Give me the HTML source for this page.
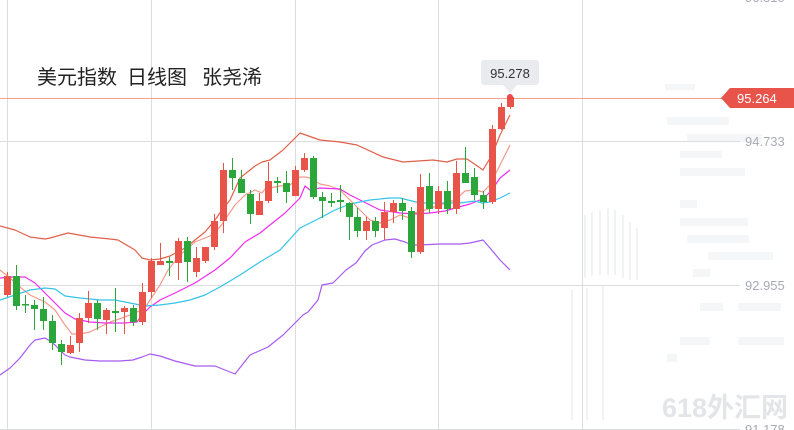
<!DOCTYPE html>
<html><head><meta charset="utf-8"><style>
html,body{margin:0;padding:0;background:#fff;}
svg{display:block;}
</style></head><body>
<svg width="794" height="430" viewBox="0 0 794 430" xmlns="http://www.w3.org/2000/svg">
<rect width="794" height="430" fill="#fff"/>
<!-- faint watermark blocks -->
<g fill="#f5f6f8">
<rect x="665" y="84" width="30" height="6"/><rect x="667" y="117" width="62" height="8"/><rect x="687" y="134" width="75" height="8"/>
<rect x="680" y="151" width="42" height="7"/><rect x="680" y="168" width="65" height="8"/><rect x="680" y="200" width="17" height="8"/>
<rect x="680" y="218" width="68" height="8"/><rect x="687" y="235" width="62" height="8"/><rect x="708" y="252" width="65" height="8"/>
<rect x="693" y="269" width="17" height="8"/><rect x="700" y="303" width="23" height="8"/><rect x="738" y="303" width="43" height="8"/>
<rect x="680" y="337" width="30" height="8"/><rect x="738" y="337" width="46" height="8"/><rect x="667" y="354" width="10" height="8"/>
</g>
<g stroke="#f1f2f4" stroke-width="2">
<line x1="585" y1="215" x2="585" y2="278"/><line x1="592" y1="212" x2="592" y2="276"/><line x1="600" y1="210" x2="600" y2="275"/><line x1="608" y1="208" x2="608" y2="275"/><line x1="615" y1="210" x2="615" y2="275"/><line x1="623" y1="215" x2="623" y2="278"/><line x1="630" y1="222" x2="630" y2="280"/><line x1="637" y1="228" x2="637" y2="280"/>
<line x1="572" y1="290" x2="572" y2="420"/><line x1="587" y1="288" x2="587" y2="420"/><line x1="603" y1="285" x2="603" y2="420"/>
</g>
<!-- grid -->
<g stroke="#dcdde1" stroke-width="1">
<line x1="7.5" y1="0" x2="7.5" y2="430"/><line x1="151.5" y1="0" x2="151.5" y2="430"/><line x1="295.5" y1="0" x2="295.5" y2="430"/><line x1="438.5" y1="0" x2="438.5" y2="430"/><line x1="582.5" y1="0" x2="582.5" y2="430"/>
<line x1="0" y1="141.5" x2="740" y2="141.5"/><line x1="0" y1="285.5" x2="740" y2="285.5"/><line x1="0" y1="429.5" x2="740" y2="429.5"/>
</g>
<line x1="0" y1="98.5" x2="725" y2="98.5" stroke="#f4a095" stroke-width="1"/>
<!-- axis labels -->
<g font-family="Liberation Sans, sans-serif" font-size="13" fill="#a9abb3">
<text x="745" y="146">94.733</text><text x="745" y="290">92.955</text><text x="745" y="434">91.178</text><text x="745" y="2">96.510</text>
</g>
<!-- watermark -->
<text x="662" y="417" font-family="Liberation Sans, 'Noto Sans CJK SC', sans-serif" font-size="27" font-weight="bold" fill="#e4e5e8">618外汇网</text>
<!-- title -->
<g font-family="Liberation Sans, 'Noto Sans CJK SC', sans-serif" font-size="20" fill="#222">
<text x="37" y="84">美元指数</text><text x="127" y="84">日线图</text><text x="202" y="84">张尧浠</text>
</g>
<!-- lines -->
<g fill="none" stroke-width="1.2" stroke-linejoin="round">
<polyline stroke="#e0604a" points="0,226 15,230 30,237 45,239 50,238 68,233 90,237 110,239 118,240 135,250 142,258 150,260 160,259 170,256 185,248 205,232 215,220 222,210 230,200 240,178 255,166 262,162 270,160 283,150 293,140 300,133 320,140 340,142 357,145 383,157 403,162 433,160 447,162 457,159 467,159 473,163 483,170 492,155 500,135 510,115"/>
<polyline stroke="#f7998c" points="0,270 10,278 20,287 30,295 45,302 55,310 65,325 72,334 80,334 90,332 100,327 110,322 125,317 135,313 145,308 150,300 160,285 168,270 180,255 195,242 210,236 220,227 235,205 245,195 255,190 262,193 265,189 280,186 290,185 300,177 305,177 310,178 320,184 330,186 340,190 350,200 360,210 370,220 380,223 390,220 400,215 410,218 415,213 425,210 440,205 455,200 465,191 475,190 483,192 490,185 500,165 510,145"/>
<polyline stroke="#f02cf0" points="0,278 10,277 25,277 35,283 45,293 55,303 65,313 75,319 90,322 105,323 125,323 137,322 142,315 150,307 160,300 175,293 195,283 215,270 230,258 245,242 260,233 270,225 285,213 300,198 305,186 310,190 320,188 340,189 350,195 360,200 380,210 400,213 415,214 430,213 445,211 455,208 470,204 480,200 485,197 492,190 500,178 510,170"/>
<polyline stroke="#35c3e8" points="0,300 15,295 30,290 45,288 55,289 65,296 80,298 100,300 115,300 130,303 145,306 160,305 175,303 190,300 205,295 220,287 240,275 260,262 280,250 300,228 320,218 335,210 350,204 370,200 390,198 400,198 420,203 440,203 460,203 475,201 482,203 490,202 500,198 510,193"/>
<polyline stroke="#a75af2" points="0,375 10,368 20,358 30,345 35,340 45,338 50,341 55,345 65,355 70,357 85,360 100,361 120,361 133,360 142,357 150,354 160,356 175,361 195,366 215,366 225,370 235,374 250,355 268,347 283,335 303,315 308,312 318,300 322,285 333,283 346,270 356,263 365,251 372,245 385,240 395,239 405,242 412,245 420,245 440,244 460,244 470,243 483,240 490,248 500,260 510,270"/>
</g>
<!-- candles -->
<g id="c"></g>
<!-- tooltip -->
<rect x="481" y="60" width="58" height="25" rx="3" fill="#e9ebee"/>
<polygon points="503,85 517,85 510,93" fill="#e9ebee"/>
<text x="510" y="78" text-anchor="middle" font-family="Liberation Sans, sans-serif" font-size="13" fill="#333">95.278</text>
<circle cx="510" cy="97" r="3" fill="#f04848"/>
<!-- price tag -->
<polygon points="721,98 730,88 794,88 794,108 730,108" fill="#e8534a"/>
<text x="737" y="103" font-family="Liberation Sans, sans-serif" font-size="13" fill="#fff">95.264</text>
</svg>
<script>
var R="#e8534a",G="#2aa63a";
var d=[
[7,276,295,272,297,R],[16,276,306,265,310,G],[25,304,305,295,313,G],[34,305,309,300,330,G],[43,309,321,297,330,G],[52,321,343,315,350,G],[61,344,352,340,365,G],[70,345,353,336,354,R],[79,318,343,313,352,R],[88,303,318,291,323,R],[97,303,319,300,330,G],[106,310,320,308,334,R],[115,311,313,288,332,G],[124,308,312,306,334,R],[133,308,322,305,326,G],[142,292,322,283,325,R],[151,261,292,258,298,R],[160,261,265,243,265,R],[169,261,263,257,276,G],[178,241,263,238,280,R],[187,241,262,237,282,G],[196,258,272,247,277,R],[205,247,261,247,263,R],[214,221,247,214,250,R],[223,170,221,163,233,R],[232,170,178,158,190,G],[241,179,193,170,193,G],[250,194,214,190,224,G],[259,201,215,193,215,R],[268,181,201,162,203,R],[277,181,183,177,193,G],[286,183,192,171,203,G],[295,170,196,166,196,R],[304,158,170,153,172,R],[313,158,197,156,199,G],[322,197,201,192,218,G],[331,201,203,193,207,G],[340,200,202,185,212,G],[349,203,217,202,240,G],[357,217,231,208,237,G],[366,221,231,217,240,R],[375,221,231,217,237,G],[384,212,228,202,240,R],[393,203,212,200,223,R],[402,203,211,198,220,G],[411,211,252,207,258,G],[420,187,252,174,254,R],[429,186,209,173,213,G],[438,191,209,186,214,R],[447,191,209,181,214,G],[456,173,209,161,214,R],[465,173,183,147,183,G],[474,177,195,168,200,G],[483,195,202,191,209,G],[492,129,202,125,204,R],[501,107,129,103,130,R],[510,97,107,96,109,R]];
var g=document.getElementById("c"),s="";
d.forEach(function(a){var x=a[0];s+='<line x1="'+(x+0.5)+'" y1="'+a[3]+'" x2="'+(x+0.5)+'" y2="'+a[4]+'" stroke="'+a[5]+'" stroke-width="1"/>';s+='<rect x="'+(x-3)+'" y="'+a[1]+'" width="7" height="'+Math.max(1.5,a[2]-a[1])+'" fill="'+a[5]+'"/>';});
g.innerHTML=s;
</script>
</body></html>
